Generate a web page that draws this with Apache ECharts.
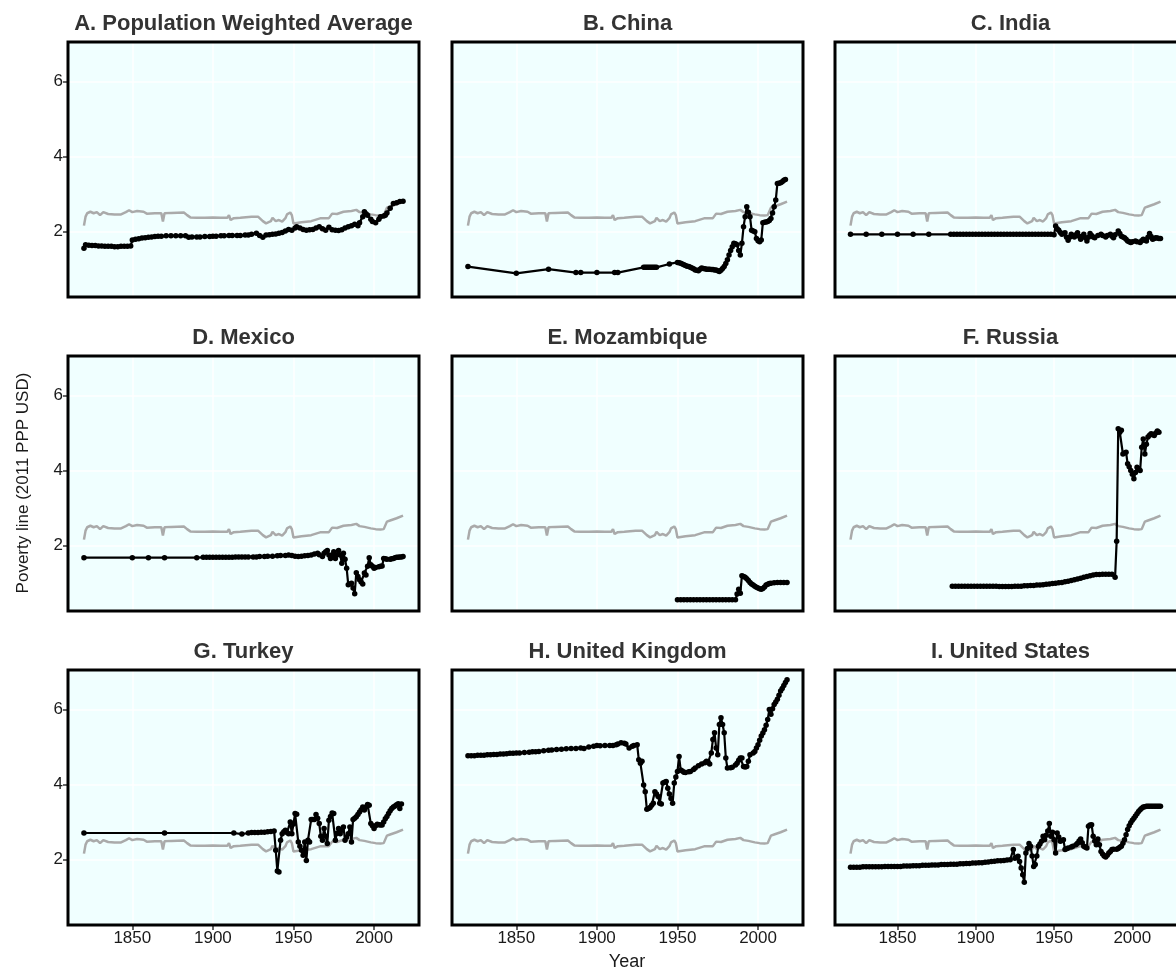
<!DOCTYPE html>
<html><head><meta charset="utf-8">
<script src="https://cdn.jsdelivr.net/npm/echarts@6/dist/echarts.min.js"></script>
<style>html,body{margin:0;padding:0;background:#fff;overflow:hidden}#c{width:1176px;height:972px}</style>
</head><body><div id="c"></div><script>
// ---- data (year, poverty line in 2011 PPP USD) ----
const xTicks = [1850, 1900, 1950, 2000];
const yTicks = [2, 4, 6];
const titles = ['A. Population Weighted Average', 'B. China', 'C. India', 'D. Mexico', 'E. Mozambique', 'F. Russia', 'G. Turkey', 'H. United Kingdom', 'I. United States'];

const reference = [[1820,2.16],[1821,2.40],[1822,2.49],[1824,2.53],[1826,2.49],[1828,2.52],[1830,2.44],[1832,2.52],[1835,2.47],[1839,2.46],[1840,2.42],[1843,2.46],[1846,2.52],[1848,2.57],[1850,2.52],[1853,2.55],[1857,2.53],[1859,2.48],[1864,2.49],[1868,2.49],[1869,2.27],[1870,2.49],[1874,2.50],[1882,2.51],[1884,2.44],[1886,2.38],[1890,2.37],[1895,2.37],[1900,2.38],[1905,2.37],[1909,2.37],[1910,2.44],[1911,2.31],[1913,2.36],[1917,2.37],[1924,2.40],[1928,2.40],[1931,2.28],[1933,2.22],[1936,2.28],[1937,2.37],[1939,2.28],[1941,2.31],[1943,2.27],[1945,2.36],[1946,2.46],[1948,2.51],[1949,2.44],[1950,2.22],[1955,2.25],[1961,2.28],[1967,2.36],[1972,2.36],[1974,2.48],[1977,2.47],[1981,2.53],[1986,2.55],[1989,2.58],[1991,2.52],[1994,2.50],[1998,2.46],[2001,2.44],[2004,2.43],[2006,2.44],[2008,2.64],[2010,2.67],[2014,2.73],[2018,2.80]];

const world = [[1820,1.56],[1821,1.65],[1823,1.64],[1825,1.63],[1827,1.63],[1829,1.62],[1831,1.62],[1833,1.61],[1835,1.61],[1837,1.61],[1839,1.60],[1841,1.60],[1843,1.61],[1845,1.61],[1847,1.61],[1849,1.62],[1850,1.78],[1852,1.80],[1854,1.81],[1856,1.83],[1858,1.84],[1860,1.85],[1862,1.86],[1864,1.87],[1866,1.88],[1868,1.88],[1871,1.89],[1874,1.89],[1877,1.89],[1880,1.89],[1883,1.89],[1885,1.85],[1887,1.86],[1890,1.86],[1892,1.86],[1895,1.87],[1898,1.87],[1900,1.88],[1902,1.88],[1905,1.89],[1907,1.89],[1910,1.90],[1912,1.90],[1915,1.90],[1917,1.90],[1920,1.91],[1922,1.91],[1924,1.93],[1927,1.96],[1929,1.90],[1931,1.85],[1933,1.91],[1935,1.92],[1937,1.93],[1939,1.94],[1941,1.96],[1943,1.98],[1945,2.02],[1947,2.06],[1949,2.04],[1951,2.10],[1952,2.13],[1954,2.10],[1956,2.06],[1958,2.04],[1960,2.05],[1962,2.06],[1964,2.10],[1966,2.13],[1968,2.08],[1970,2.04],[1972,2.12],[1974,2.05],[1976,2.04],[1978,2.03],[1980,2.05],[1982,2.10],[1984,2.13],[1986,2.16],[1988,2.20],[1990,2.16],[1991,2.24],[1993,2.40],[1994,2.53],[1995,2.48],[1996,2.44],[1998,2.33],[1999,2.27],[2001,2.24],[2003,2.33],[2004,2.40],[2006,2.42],[2007,2.44],[2008,2.50],[2010,2.62],[2012,2.75],[2014,2.77],[2016,2.80],[2018,2.81]];

const china = [[1820,1.07],[1850,0.89],[1870,1.00],[1887,0.91],[1890,0.91],[1900,0.91],[1911,0.91],[1913,0.91],[1929,1.05],[1930,1.05],[1931,1.05],[1932,1.05],[1933,1.05],[1934,1.05],[1935,1.05],[1936,1.05],[1937,1.05],[1945,1.14],[1950,1.18],[1951,1.17],[1952,1.16],[1953,1.14],[1954,1.12],[1955,1.10],[1956,1.08],[1957,1.07],[1958,1.05],[1959,1.03],[1960,1.01],[1961,0.98],[1962,0.97],[1963,0.96],[1964,1.00],[1965,1.03],[1966,1.02],[1967,1.01],[1968,1.00],[1969,1.00],[1970,1.00],[1971,0.99],[1972,0.99],[1973,0.98],[1974,0.98],[1975,0.96],[1976,0.94],[1977,0.97],[1978,1.02],[1979,1.07],[1980,1.15],[1981,1.25],[1982,1.38],[1983,1.50],[1984,1.60],[1985,1.69],[1986,1.68],[1987,1.65],[1988,1.50],[1989,1.38],[1990,1.69],[1991,2.13],[1992,2.40],[1993,2.66],[1994,2.52],[1995,2.40],[1996,2.04],[1997,2.02],[1998,2.00],[1999,1.82],[2000,1.76],[2001,1.73],[2002,1.78],[2003,2.24],[2004,2.25],[2005,2.26],[2006,2.27],[2007,2.30],[2008,2.35],[2009,2.50],[2010,2.66],[2011,2.84],[2012,3.28],[2013,3.29],[2014,3.30],[2015,3.33],[2016,3.37],[2017,3.39]];

const india = [[1820,1.93],[1830,1.93],[1840,1.93],[1850,1.93],[1860,1.93],[1870,1.93],[1884,1.93],[1886,1.93],[1888,1.93],[1890,1.93],[1892,1.93],[1894,1.93],[1896,1.93],[1898,1.93],[1900,1.93],[1902,1.93],[1904,1.93],[1906,1.93],[1908,1.93],[1910,1.93],[1912,1.93],[1914,1.93],[1916,1.93],[1918,1.93],[1920,1.93],[1922,1.93],[1924,1.93],[1926,1.93],[1928,1.93],[1930,1.93],[1932,1.93],[1934,1.93],[1936,1.93],[1938,1.93],[1940,1.93],[1942,1.93],[1944,1.93],[1946,1.93],[1948,1.93],[1950,1.92],[1951,2.15],[1952,2.08],[1953,2.04],[1954,1.98],[1955,1.93],[1956,1.95],[1957,1.97],[1958,1.85],[1959,1.77],[1960,1.85],[1961,1.93],[1962,1.90],[1963,1.86],[1964,1.92],[1965,1.97],[1966,1.88],[1967,1.80],[1968,1.87],[1969,1.93],[1970,1.84],[1971,1.75],[1972,1.85],[1973,1.95],[1974,1.90],[1975,1.86],[1976,1.84],[1978,1.90],[1980,1.93],[1981,1.90],[1983,1.86],[1984,1.90],[1986,1.93],[1987,1.88],[1988,1.84],[1989,1.92],[1991,2.02],[1992,1.95],[1993,1.88],[1994,1.86],[1995,1.84],[1996,1.80],[1997,1.75],[1998,1.73],[1999,1.71],[2000,1.73],[2002,1.75],[2003,1.73],[2005,1.71],[2006,1.76],[2007,1.80],[2008,1.78],[2009,1.75],[2010,1.85],[2011,1.95],[2012,1.87],[2013,1.80],[2014,1.82],[2015,1.84],[2016,1.83],[2017,1.82],[2018,1.82]];

const mexico = [[1820,1.68],[1850,1.68],[1860,1.68],[1870,1.68],[1890,1.68],[1894,1.69],[1896,1.69],[1898,1.69],[1900,1.69],[1902,1.69],[1904,1.69],[1906,1.69],[1908,1.69],[1910,1.69],[1912,1.69],[1914,1.70],[1916,1.70],[1918,1.70],[1920,1.70],[1922,1.70],[1925,1.70],[1927,1.70],[1929,1.71],[1932,1.71],[1934,1.72],[1937,1.72],[1940,1.73],[1942,1.74],[1945,1.74],[1947,1.75],[1949,1.74],[1951,1.72],[1953,1.71],[1955,1.72],[1957,1.73],[1959,1.74],[1961,1.75],[1963,1.78],[1965,1.80],[1966,1.76],[1968,1.71],[1969,1.80],[1970,1.84],[1971,1.87],[1972,1.75],[1973,1.66],[1974,1.75],[1975,1.84],[1976,1.66],[1977,1.76],[1978,1.87],[1979,1.75],[1980,1.53],[1981,1.80],[1982,1.64],[1983,1.40],[1984,0.96],[1985,0.98],[1986,1.00],[1987,0.87],[1988,0.72],[1989,1.28],[1990,1.18],[1991,1.09],[1992,1.03],[1993,0.98],[1994,1.27],[1995,1.22],[1996,1.45],[1997,1.68],[1998,1.49],[1999,1.45],[2000,1.40],[2001,1.42],[2003,1.44],[2004,1.45],[2005,1.46],[2006,1.66],[2007,1.65],[2008,1.64],[2010,1.64],[2011,1.65],[2012,1.66],[2013,1.68],[2014,1.69],[2015,1.69],[2016,1.70],[2017,1.70],[2018,1.71]];

const mozambique = [[1950,0.56],[1952,0.56],[1954,0.56],[1956,0.56],[1958,0.56],[1960,0.56],[1962,0.56],[1964,0.56],[1966,0.56],[1968,0.56],[1970,0.56],[1972,0.56],[1974,0.56],[1976,0.56],[1978,0.56],[1980,0.56],[1982,0.56],[1984,0.56],[1986,0.56],[1987,0.71],[1988,0.84],[1989,0.73],[1990,1.20],[1991,1.18],[1992,1.16],[1993,1.12],[1994,1.07],[1995,1.02],[1996,0.98],[1997,0.95],[1998,0.92],[1999,0.89],[2000,0.87],[2001,0.85],[2002,0.84],[2003,0.86],[2004,0.90],[2005,0.95],[2006,0.97],[2007,0.99],[2008,1.00],[2010,1.01],[2012,1.02],[2014,1.02],[2016,1.02],[2018,1.02]];

const russia = [[1885,0.92],[1887,0.92],[1889,0.92],[1891,0.92],[1893,0.92],[1895,0.92],[1897,0.92],[1899,0.92],[1901,0.92],[1903,0.92],[1905,0.92],[1907,0.92],[1909,0.92],[1911,0.92],[1913,0.92],[1915,0.91],[1917,0.91],[1919,0.91],[1921,0.91],[1923,0.91],[1925,0.92],[1927,0.92],[1929,0.92],[1931,0.93],[1933,0.93],[1935,0.94],[1937,0.94],[1939,0.95],[1941,0.95],[1943,0.96],[1945,0.97],[1947,0.98],[1949,0.99],[1951,1.00],[1953,1.01],[1955,1.02],[1957,1.04],[1959,1.05],[1961,1.07],[1963,1.09],[1965,1.11],[1967,1.13],[1969,1.16],[1971,1.18],[1973,1.20],[1975,1.22],[1977,1.23],[1979,1.23],[1981,1.24],[1983,1.24],[1985,1.24],[1987,1.24],[1989,1.16],[1990,2.12],[1991,5.11],[1992,5.02],[1993,5.07],[1994,4.44],[1995,4.47],[1996,4.49],[1997,4.18],[1998,4.10],[1999,4.00],[2000,3.90],[2001,3.78],[2002,3.95],[2003,4.09],[2004,4.05],[2005,4.00],[2006,4.62],[2007,4.84],[2008,4.44],[2009,4.70],[2010,4.89],[2011,4.94],[2012,4.98],[2013,4.96],[2014,4.93],[2015,5.00],[2016,5.05],[2017,5.02]];

const turkey = [[1820,2.71],[1870,2.71],[1913,2.71],[1918,2.68],[1922,2.71],[1924,2.72],[1926,2.72],[1928,2.72],[1930,2.73],[1932,2.73],[1934,2.74],[1936,2.75],[1938,2.76],[1939,2.25],[1940,1.70],[1941,1.67],[1942,2.52],[1943,2.69],[1944,2.74],[1945,2.78],[1946,2.72],[1947,2.69],[1948,3.00],[1949,2.69],[1950,2.95],[1951,3.23],[1952,3.21],[1953,2.47],[1954,2.36],[1955,2.25],[1956,2.12],[1957,2.47],[1958,1.98],[1959,2.52],[1960,2.47],[1961,3.07],[1962,3.07],[1963,3.07],[1964,3.20],[1965,3.10],[1966,2.96],[1967,2.62],[1968,2.52],[1969,2.83],[1970,2.62],[1971,2.43],[1972,3.05],[1973,3.15],[1974,3.24],[1975,3.23],[1976,2.52],[1977,2.70],[1978,2.83],[1979,2.69],[1980,2.78],[1981,2.87],[1982,2.52],[1983,2.60],[1984,2.69],[1985,2.87],[1986,2.47],[1987,3.07],[1988,3.10],[1989,3.14],[1990,3.20],[1991,3.27],[1992,3.33],[1993,3.40],[1994,3.32],[1995,3.40],[1996,3.47],[1997,3.45],[1998,2.96],[1999,2.90],[2000,2.83],[2001,2.90],[2002,2.94],[2003,2.93],[2004,2.92],[2005,2.92],[2006,3.00],[2007,3.09],[2008,3.15],[2009,3.23],[2010,3.30],[2011,3.36],[2012,3.40],[2013,3.43],[2014,3.46],[2015,3.49],[2016,3.36],[2017,3.48]];

const uk = [[1820,4.77],[1822,4.77],[1824,4.77],[1826,4.78],[1828,4.78],[1830,4.78],[1832,4.79],[1834,4.79],[1836,4.80],[1838,4.80],[1840,4.81],[1842,4.81],[1844,4.82],[1846,4.83],[1848,4.83],[1850,4.84],[1852,4.84],[1855,4.85],[1858,4.86],[1860,4.87],[1862,4.87],[1864,4.88],[1867,4.90],[1870,4.91],[1872,4.92],[1875,4.93],[1878,4.94],[1881,4.95],[1884,4.96],[1887,4.96],[1890,4.97],[1892,4.96],[1895,5.00],[1898,5.02],[1900,5.04],[1902,5.03],[1905,5.04],[1908,5.04],[1910,5.04],[1912,5.06],[1913,5.08],[1915,5.11],[1917,5.10],[1918,5.08],[1920,4.97],[1922,5.02],[1923,5.04],[1925,5.06],[1926,4.66],[1927,4.57],[1928,4.62],[1929,3.99],[1930,3.81],[1931,3.34],[1932,3.36],[1933,3.39],[1934,3.45],[1935,3.50],[1936,3.81],[1937,3.75],[1938,3.68],[1939,3.50],[1940,3.48],[1941,4.04],[1942,4.06],[1943,4.08],[1944,3.90],[1945,3.75],[1946,3.63],[1947,3.50],[1948,4.04],[1949,4.20],[1950,4.35],[1951,4.75],[1952,4.39],[1953,4.36],[1954,4.33],[1955,4.32],[1957,4.34],[1958,4.35],[1960,4.40],[1961,4.44],[1963,4.50],[1965,4.55],[1967,4.58],[1968,4.62],[1969,4.60],[1970,4.55],[1971,4.84],[1972,5.20],[1973,5.38],[1974,4.97],[1975,4.79],[1976,5.60],[1977,5.78],[1978,5.60],[1979,5.38],[1980,4.71],[1981,4.44],[1983,4.45],[1984,4.46],[1986,4.52],[1987,4.57],[1988,4.65],[1989,4.71],[1990,4.71],[1991,4.48],[1992,4.47],[1993,4.48],[1994,4.62],[1995,4.79],[1997,4.84],[1998,4.88],[1999,4.97],[2000,5.06],[2001,5.18],[2002,5.29],[2003,5.37],[2004,5.46],[2005,5.58],[2006,5.73],[2007,6.00],[2008,5.87],[2009,6.02],[2010,6.13],[2011,6.20],[2012,6.27],[2013,6.38],[2014,6.49],[2015,6.56],[2016,6.64],[2017,6.72],[2018,6.79]];

const us = [[1820,1.80],[1822,1.80],[1824,1.80],[1826,1.80],[1828,1.81],[1830,1.81],[1832,1.81],[1834,1.81],[1836,1.81],[1838,1.81],[1840,1.81],[1842,1.82],[1844,1.82],[1846,1.82],[1848,1.82],[1850,1.82],[1852,1.82],[1854,1.83],[1856,1.83],[1858,1.83],[1860,1.84],[1862,1.84],[1864,1.84],[1866,1.85],[1868,1.85],[1870,1.85],[1872,1.86],[1874,1.86],[1876,1.86],[1878,1.87],[1880,1.87],[1882,1.87],[1884,1.88],[1886,1.88],[1888,1.88],[1890,1.89],[1892,1.89],[1894,1.90],[1896,1.90],[1898,1.91],[1900,1.91],[1902,1.92],[1904,1.92],[1906,1.93],[1908,1.94],[1910,1.95],[1912,1.96],[1914,1.97],[1916,1.97],[1918,1.98],[1920,1.99],[1922,2.00],[1924,2.27],[1925,2.04],[1926,2.06],[1927,2.09],[1928,1.95],[1929,1.78],[1930,1.60],[1931,1.40],[1932,2.18],[1933,2.30],[1934,2.43],[1935,2.36],[1936,2.10],[1937,1.82],[1938,1.87],[1939,2.10],[1940,2.36],[1941,2.42],[1942,2.49],[1943,2.62],[1944,2.53],[1945,2.65],[1946,2.76],[1947,2.96],[1948,2.62],[1949,2.73],[1950,2.53],[1951,2.18],[1952,2.71],[1953,2.60],[1954,2.49],[1955,2.51],[1956,2.53],[1957,2.27],[1958,2.29],[1959,2.31],[1961,2.34],[1962,2.36],[1964,2.40],[1965,2.44],[1966,2.50],[1967,2.55],[1968,2.45],[1969,2.36],[1970,2.33],[1971,2.31],[1972,2.89],[1973,2.92],[1974,2.93],[1975,2.62],[1976,2.50],[1977,2.40],[1978,2.55],[1979,2.40],[1980,2.22],[1981,2.15],[1982,2.10],[1983,2.07],[1984,2.12],[1985,2.18],[1986,2.22],[1987,2.27],[1988,2.28],[1990,2.28],[1991,2.30],[1992,2.33],[1993,2.36],[1994,2.44],[1995,2.53],[1996,2.66],[1997,2.80],[1998,2.90],[1999,2.98],[2000,3.05],[2001,3.10],[2002,3.16],[2003,3.22],[2004,3.28],[2005,3.33],[2006,3.37],[2007,3.40],[2008,3.41],[2009,3.42],[2010,3.42],[2011,3.42],[2012,3.42],[2013,3.42],[2014,3.42],[2015,3.42],[2016,3.42],[2017,3.42],[2018,3.42]];

const panelData = [world, china, india, mexico, mozambique, russia, turkey, uk, us];

// ---- layout ----
const COL_LEFT = [68, 452, 835], ROW_TOP = [42, 356, 670], W = 351, H = 255;
const X_MIN = 1810.1, X_MAX = 2027.9, Y_MIN = 0.26, Y_MAX = 7.05;
const FONT = '"Liberation Sans", Arial, Helvetica, sans-serif';

const grid = [], xAxis = [], yAxis = [], series = [], title = [], graphic = [];
for (let i = 0; i < 9; i++) {
  const row = Math.floor(i / 3), col = i % 3;
  const left = COL_LEFT[col], top = ROW_TOP[row];
  grid.push({left: left, top: top, width: W, height: H, show: true, backgroundColor: '#F0FFFF', borderWidth: 0});
  title.push({text: titles[i], left: left + W / 2, top: top - 29, textAlign: 'center', padding: 0,
    textStyle: {fontFamily: FONT, fontWeight: 'bold', fontSize: 22, color: '#333333'}});
  xAxis.push({type: 'value', gridIndex: i, min: X_MIN, max: X_MAX,
    axisLine: {show: false},
    axisTick: {show: row === 2, customValues: xTicks, length: 5, lineStyle: {color: '#333', width: 1.5}},
    axisLabel: {show: row === 2, customValues: xTicks, formatter: v => String(v), fontFamily: FONT, fontSize: 17, color: '#1a1a1a', margin: 5},
    splitLine: {show: true, lineStyle: {color: '#ffffff', width: 1.5}}});
  yAxis.push({type: 'value', gridIndex: i, min: Y_MIN, max: Y_MAX,
    axisLine: {show: false},
    axisTick: {show: col === 0, customValues: yTicks, length: 5, lineStyle: {color: '#333', width: 1.5}},
    axisLabel: {show: col === 0, customValues: yTicks, fontFamily: FONT, fontSize: 17, color: '#1a1a1a', margin: 5},
    splitLine: {show: true, lineStyle: {color: '#ffffff', width: 1.5}}});
  series.push({type: 'line', xAxisIndex: i, yAxisIndex: i, data: reference, showSymbol: false, symbol: 'none',
    lineStyle: {color: '#aaaaaa', width: 2.5}, z: 2, silent: true});
  series.push({type: 'line', xAxisIndex: i, yAxisIndex: i, data: panelData[i], symbol: 'circle', symbolSize: 5.5,
    itemStyle: {color: '#000000'}, lineStyle: {color: '#000000', width: 2.2}, z: 3, silent: true});
  graphic.push({type: 'rect', shape: {x: left, y: top, width: W, height: H}, z: 100, silent: true,
    style: {fill: 'none', stroke: '#000000', lineWidth: 3}});
}
graphic.push({type: 'text', x: 23, y: 483, rotation: Math.PI / 2, silent: true, z: 100,
  style: {text: 'Poverty line (2011 PPP USD)', font: '17px ' + FONT, fill: '#1a1a1a', textAlign: 'center', textVerticalAlign: 'middle'}});
graphic.push({type: 'text', x: 627, y: 962, silent: true, z: 100,
  style: {text: 'Year', font: '18px ' + FONT, fill: '#1a1a1a', textAlign: 'center', textVerticalAlign: 'middle'}});

const chart = echarts.init(document.getElementById('c'), null, {renderer: 'canvas'});
chart.setOption({animation: false, backgroundColor: '#ffffff', title, grid, xAxis, yAxis, series, graphic});
</script></body></html>
